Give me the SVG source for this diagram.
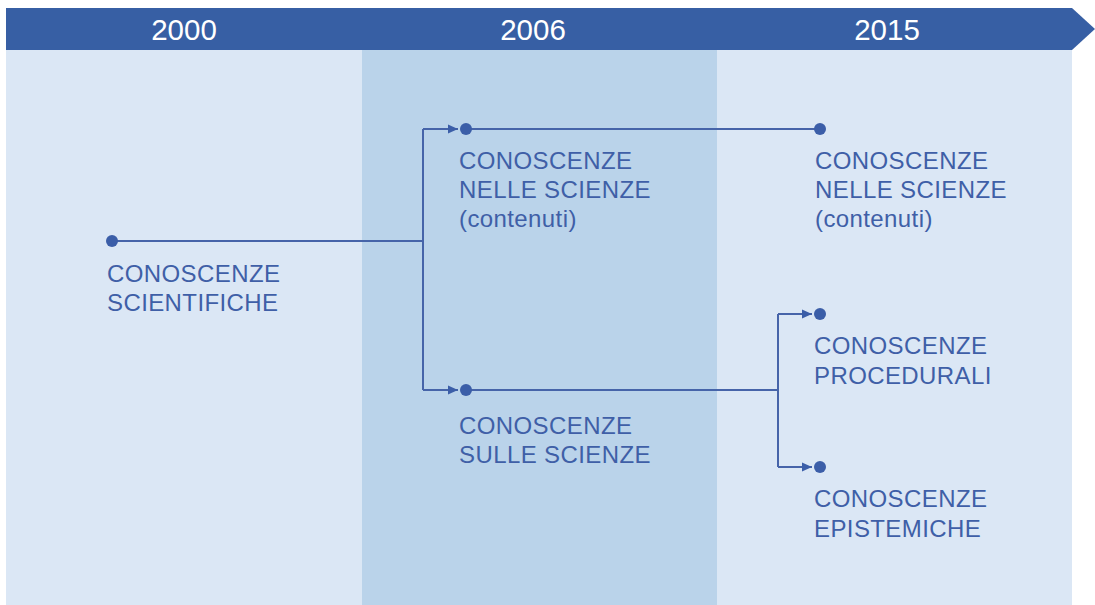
<svg xmlns="http://www.w3.org/2000/svg" width="1095" height="605" viewBox="0 0 1095 605">
<style>
.bgl{fill:#dbe7f5}
.bgm{fill:#bad3ea}
.yr{font-family:"Liberation Sans",Arial,sans-serif;font-size:29.5px;fill:#ffffff;text-anchor:middle}
.lbl{font-family:"Liberation Sans",Arial,sans-serif;font-size:24px;letter-spacing:0.4px;fill:#3f5fa7}
.ln{fill:none;stroke:#4664a9;stroke-width:2}
.dot{fill:#3b5ea8}
</style>
<defs>
<marker id="ah" markerWidth="12" markerHeight="12" refX="10" refY="6" orient="auto" markerUnits="userSpaceOnUse">
<path d="M0,1.5 L10,6 L0,10.5 Z" fill="#3b5ea8"/>
</marker>
</defs>
<rect x="0" y="0" width="1095" height="605" fill="#ffffff"/>
<g id="background">
<rect class="bgl" x="6" y="50" width="356" height="555"/>
<rect class="bgm" x="362" y="50" width="355" height="555"/>
<rect class="bgl" x="717" y="50" width="355" height="555"/>
</g>
<g id="header">
<path d="M6,8 L1072,8 L1095,29 L1072,50 L6,50 Z" fill="#375fa4"/>
<text class="yr" x="184" y="40">2000</text>
<text class="yr" x="533" y="40">2006</text>
<text class="yr" x="887" y="40">2015</text>
</g>
<g id="connectors">
<path class="ln" d="M112,241 H423"/>
<path class="ln" d="M423,129 V390"/>
<path class="ln" d="M423,129 H458" marker-end="url(#ah)"/>
<path class="ln" d="M423,390 H458" marker-end="url(#ah)"/>
<path class="ln" d="M466,129 H820"/>
<path class="ln" d="M466,390 H778"/>
<path class="ln" d="M778,314 V467"/>
<path class="ln" d="M778,314 H812" marker-end="url(#ah)"/>
<path class="ln" d="M778,467 H812" marker-end="url(#ah)"/>
</g>
<g id="n-scientifiche">
<circle class="dot" cx="112" cy="241" r="6"/>
<text class="lbl" x="107" y="282">CONOSCENZE</text>
<text class="lbl" x="107" y="311">SCIENTIFICHE</text>
</g>
<g id="n-nelle-2006">
<circle class="dot" cx="466" cy="129" r="6"/>
<text class="lbl" x="459" y="169">CONOSCENZE</text>
<text class="lbl" x="459" y="198">NELLE SCIENZE</text>
<text class="lbl" x="459" y="227">(contenuti)</text>
</g>
<g id="n-sulle-2006">
<circle class="dot" cx="466" cy="390" r="6"/>
<text class="lbl" x="459" y="434">CONOSCENZE</text>
<text class="lbl" x="459" y="463">SULLE SCIENZE</text>
</g>
<g id="n-nelle-2015">
<circle class="dot" cx="820" cy="129" r="6"/>
<text class="lbl" x="815" y="169">CONOSCENZE</text>
<text class="lbl" x="815" y="198">NELLE SCIENZE</text>
<text class="lbl" x="815" y="227">(contenuti)</text>
</g>
<g id="n-procedurali">
<circle class="dot" cx="820" cy="314" r="6"/>
<text class="lbl" x="814" y="354">CONOSCENZE</text>
<text class="lbl" x="814" y="384">PROCEDURALI</text>
</g>
<g id="n-epistemiche">
<circle class="dot" cx="820" cy="467" r="6"/>
<text class="lbl" x="814" y="507">CONOSCENZE</text>
<text class="lbl" x="814" y="537">EPISTEMICHE</text>
</g>
</svg>
